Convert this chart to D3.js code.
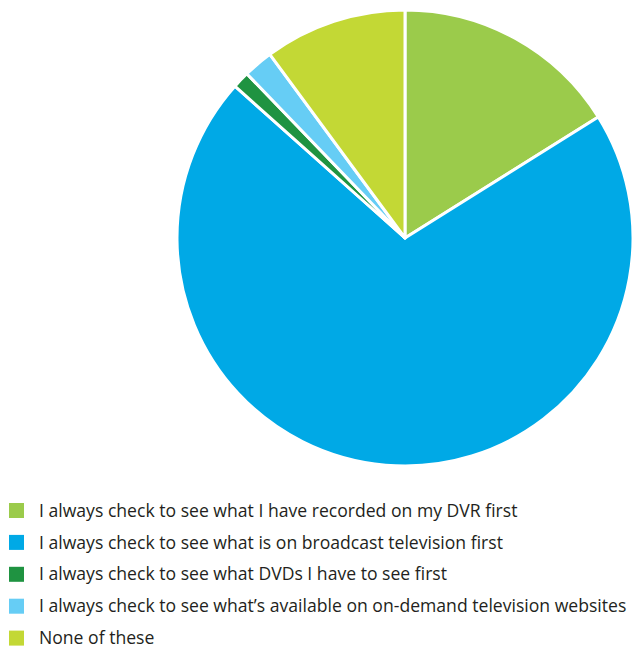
<!DOCTYPE html>
<html>
<head>
<meta charset="utf-8">
<script src="https://cdn.jsdelivr.net/npm/d3@7"></script>
<style>
  body { margin: 0; background: #fff; }
  .legend-label { font-family: "Open Sans", sans-serif; font-size: 17.6px; fill: #231f20; }
</style>
</head>
<body>
<svg id="chart" width="632" height="649"></svg>
<script>
// data
var categories = [
	"I always check to see what I have recorded on my DVR first",
	"I always check to see what is on broadcast television first",
	"I always check to see what DVDs I have to see first",
	"I always check to see what\u2019s available on on-demand television websites",
	"None of these"
];
var shares = [16.1, 70.5, 1.2, 2.1, 10.1];
var colors = ["#9bcb4b", "#00a9e6", "#1f9341", "#66cdf5", "#c3d835"];

// layout
var CX = 405, CY = 238, R = 228;
var LEG_X = 9, LEG_Y0 = 510.5, LEG_STEP = 31.9, SWATCH = 15;

var svg = d3.select("#chart");

var pie = d3.pie().sort(null).value(function(d){ return d; });
var arc = d3.arc().innerRadius(0).outerRadius(R);

var g = svg.append("g").attr("transform", "translate(" + CX + "," + CY + ")");
g.selectAll("path")
	.data(pie(shares))
	.enter()
	.append("path")
	.attr("d", arc)
	.attr("fill", function(d, i){ return colors[i]; })
	.attr("stroke", "#fff")
	.attr("stroke-width", 3)
	.attr("stroke-linejoin", "round");

var leg = svg.selectAll("g.leg")
	.data(categories)
	.enter()
	.append("g")
	.attr("class", "leg")
	.attr("transform", function(d, i){
		return "translate(" + LEG_X + "," + (LEG_Y0 + i * LEG_STEP) + ")";
	});
leg.append("rect")
	.attr("x", 0)
	.attr("y", -SWATCH / 2)
	.attr("width", SWATCH)
	.attr("height", SWATCH)
	.attr("fill", function(d, i){ return colors[i]; });
leg.append("text")
	.attr("class", "legend-label")
	.attr("x", 30)
	.attr("y", 0)
	.attr("dy", "0.35em")
	.text(function(d){ return d; });
</script>
</body>
</html>
